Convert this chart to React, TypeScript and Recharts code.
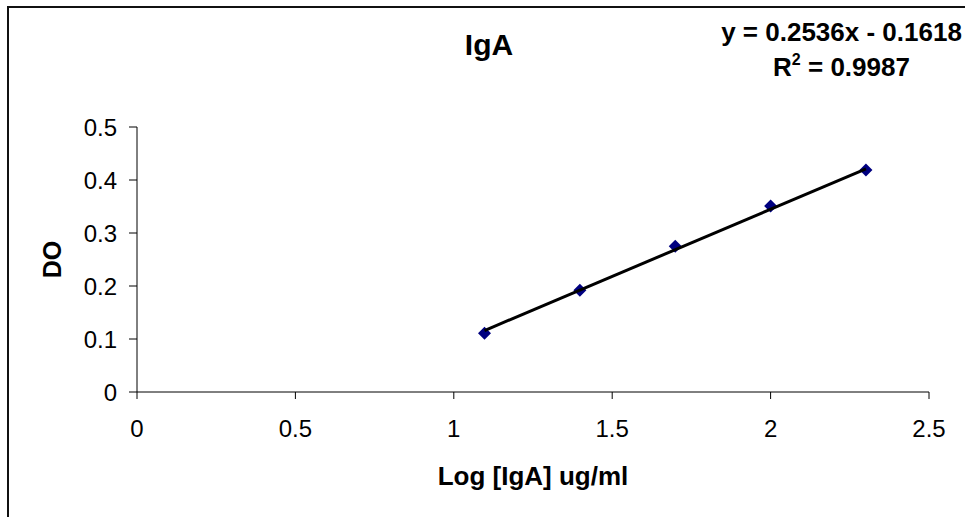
import { ScatterChart, Scatter, XAxis, YAxis } from 'recharts';

// measured points (log concentration vs optical density)
const logConc = [1.097, 1.398, 1.699, 2.0, 2.301];
const density = [0.111, 0.192, 0.275, 0.351, 0.419];

// linear trendline endpoints
const trendX = [1.097, 2.301];
const trendY = [0.116, 0.421];

const xTicks = [0, 0.5, 1, 1.5, 2, 2.5];
const yTicks = [0, 0.1, 0.2, 0.3, 0.4, 0.5];

const chartTitle = 'IgA';
const equation = 'y = 0.2536x - 0.1618';
const rSquared = '0.9987';

const FONT = '"Liberation Sans", Arial, sans-serif';

const points = logConc.map((x, i) => ({ x, y: density[i] }));
const trend = trendX.map((x, i) => ({ x, y: trendY[i] }));

function Diamond(props: { cx?: number; cy?: number }) {
  const { cx = 0, cy = 0 } = props;
  const r = 6.5;
  return (
    <polygon
      points={`${cx},${cy - r} ${cx + r},${cy} ${cx},${cy + r} ${cx - r},${cy}`}
      fill="#000080"
    />
  );
}

// vertical axis title, centred on the plot height
function YTitle(props: any) {
  const vb = props.viewBox || { x: 0, y: 0, width: 0, height: 0 };
  const cx = 52;
  const cy = vb.y + vb.height / 2;
  return (
    <text
      x={cx}
      y={cy}
      transform={`rotate(-90 ${cx} ${cy})`}
      textAnchor="middle"
      dominantBaseline="central"
      fontSize={25}
      fontWeight="bold"
      fontFamily={FONT}
      fill="#000"
    >
      DO
    </text>
  );
}

export default function App() {
  return (
    <div style={{ position: 'absolute', left: 0, top: 0, width: 965, height: 517, overflow: 'hidden', background: '#fff', fontFamily: FONT }}>
      <div style={{ position: 'absolute', left: 7, top: 6, width: 1100, height: 700, border: '2px solid #111', boxSizing: 'border-box' }} />
      <div style={{ position: 'absolute', left: 389, width: 200, top: 28, textAlign: 'center', fontSize: 30, fontWeight: 'bold', lineHeight: '34px' }}>
        {chartTitle}
      </div>
      <div style={{ position: 'absolute', left: 700, width: 283, top: 15, textAlign: 'center', fontSize: 26, fontWeight: 'bold', lineHeight: '35px' }}>
        <div style={{ whiteSpace: 'pre' }}>{equation}</div>
        <div>
          R<sup style={{ fontSize: 16, verticalAlign: 'top', lineHeight: '20px' }}>2</sup> = {rSquared}
        </div>
      </div>
      <div style={{ position: 'absolute', left: 0, top: 0 }}>
        <ScatterChart width={965} height={517} margin={{ top: 127, right: 36, bottom: 65, left: 0 }}>
          <XAxis
            type="number"
            dataKey="x"
            domain={[0, 2.5]}
            ticks={xTicks}
            tickSize={7}
            tickMargin={21}
            stroke="#000"
            tick={{ fill: '#000', fontSize: 24, fontFamily: FONT }}
            height={60}
            label={{ value: 'Log [IgA] ug/ml', position: 'insideBottom', offset: -33, fill: '#000', fontSize: 26, fontWeight: 'bold', fontFamily: FONT }}
          />
          <YAxis
            type="number"
            dataKey="y"
            domain={[0, 0.5]}
            ticks={yTicks}
            tickSize={8}
            tickMargin={12}
            stroke="#000"
            width={137}
            tick={{ fill: '#000', fontSize: 24, fontFamily: FONT }}
            label={{ content: <YTitle /> }}
          />
          <Scatter data={points} shape={<Diamond />} isAnimationActive={false} />
          <Scatter
            data={trend}
            line={{ stroke: '#000', strokeWidth: 3 }}
            shape={() => <g />}
            isAnimationActive={false}
          />
        </ScatterChart>
      </div>
    </div>
  );
}
